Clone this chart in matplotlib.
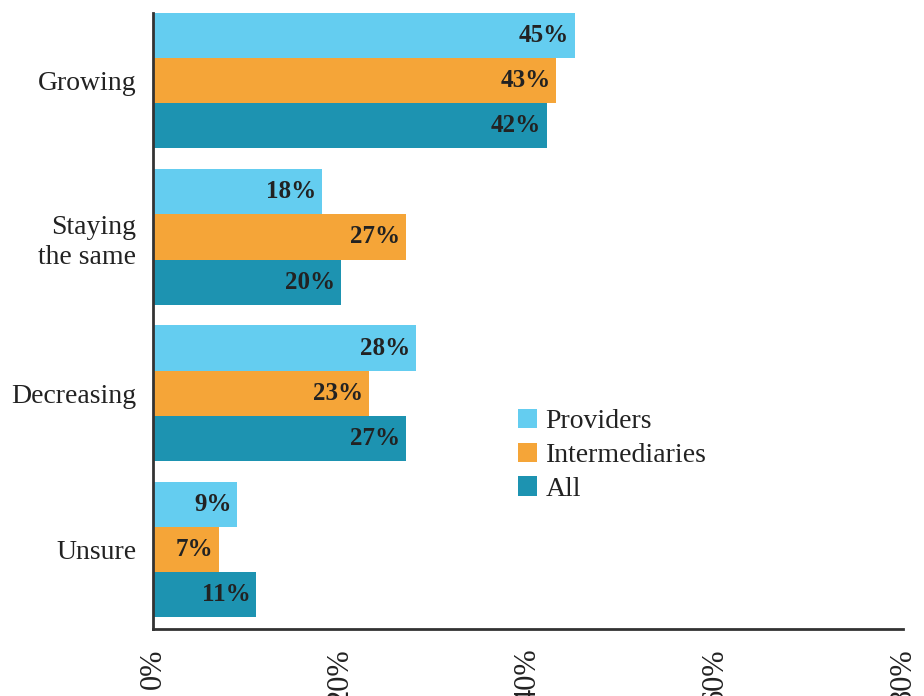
import numpy as np
import matplotlib.pyplot as plt
from matplotlib.patches import Patch

categories = ["Growing", "Staying\nthe same", "Decreasing", "Unsure"]
series = ["Providers", "Intermediaries", "All"]
providers = [45, 18, 28, 9]
intermediaries = [43, 27, 23, 7]
all_resp = [42, 20, 27, 11]
xticks = [0, 20, 40, 60, 80]

colors = ["#64CDF0", "#F5A538", "#1D93B1"]
values = [providers, intermediaries, all_resp]

plt.rcParams["font.family"] = ["Liberation Serif", "DejaVu Serif"]
txt = "#222222"

fig = plt.figure(figsize=(9.24, 6.96), dpi=100)
ax = fig.add_axes([153/924, 1-629/696, 750/924, 616/696])

y = np.arange(len(categories))
h = 0.289
for i, (vals, c) in enumerate(zip(values, colors)):
    pos = y + (i - 1) * h
    bars = ax.barh(pos, vals, height=h, color=c, edgecolor="none")
    for b, v in zip(bars, vals):
        ax.text(b.get_width() - 0.6, b.get_y() + b.get_height()/2, f"{v}%",
                ha="right", va="center", fontsize=18, fontweight="bold", color=txt)

ax.set_xlim(0, 80)
ax.set_ylim(3 + 1.5*h + 0.076, -1.5*h)
ax.set_yticks(y)
ax.set_yticklabels(categories, fontsize=20, color=txt, linespacing=1.25)
ax.set_xticks(xticks)
ax.set_xticklabels([f"{t}%" for t in xticks], rotation=90, fontsize=22, color=txt,
                   va="top")
ax.tick_params(axis="both", length=0)
ax.tick_params(axis="x", pad=14)
ax.tick_params(axis="y", pad=12)

for s in ["top", "right"]:
    ax.spines[s].set_visible(False)
for s in ["left", "bottom"]:
    ax.spines[s].set_linewidth(2)
    ax.spines[s].set_color("#333333")

handles = [Patch(facecolor=c, edgecolor="none") for c in colors]
ax.legend(handles, series, loc="upper left", bbox_to_anchor=(0.468, 0.38),
          frameon=False, fontsize=20, handlelength=0.7, handleheight=0.7,
          handletextpad=0.3, labelspacing=0.3, borderpad=0, labelcolor=txt)

fig.savefig("out.png", dpi=100)
